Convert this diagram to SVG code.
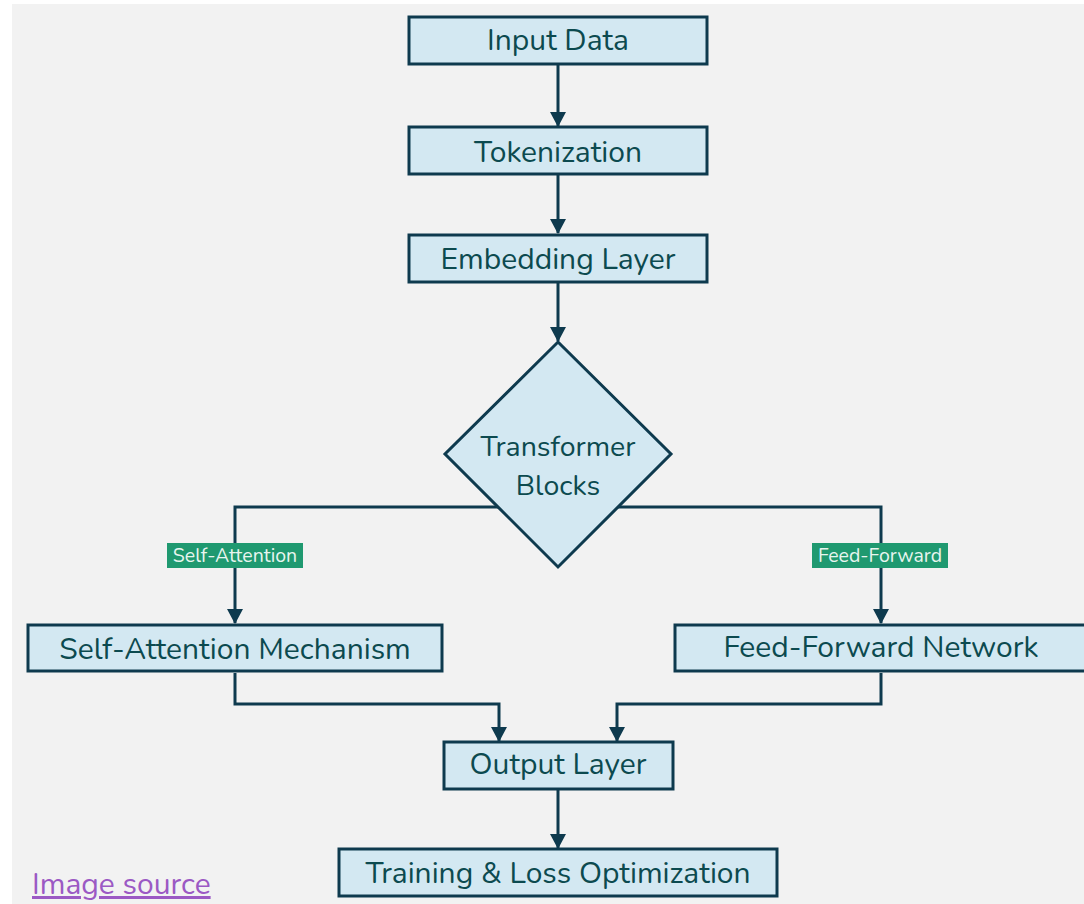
<svg xmlns="http://www.w3.org/2000/svg" width="1084" height="904" viewBox="0 0 1084 904">
<defs>
<style>
.box{fill:#d3e8f2;stroke:#0e3a4e;stroke-width:3}
.t{font-family:"Nunito","Open Sans","Noto Sans",sans-serif;font-size:30px;fill:#0c4a4f;text-anchor:middle}
.d{font-size:28.5px}
.c{fill:none;stroke:#0e3a4e;stroke-width:3}
.lb{fill:#1f9970}
.lt{font-family:"Nunito","Open Sans","Noto Sans",sans-serif;font-size:19.5px;fill:#e8f5ef;text-anchor:middle}
</style>
<marker id="ah" viewBox="0 0 15 16" refX="14" refY="8" markerWidth="15" markerHeight="16" markerUnits="userSpaceOnUse" orient="auto">
<path d="M0,0 L15,8 L0,16 z" fill="#0e3a4e"/>
</marker>
</defs>
<rect x="0" y="0" width="1084" height="904" fill="#ffffff"/>
<rect x="12" y="4" width="1072" height="900" fill="#f2f2f2"/>
<g id="connectors">
<path class="c" d="M558,65 V126" marker-end="url(#ah)"/>
<path class="c" d="M558,175 V233" marker-end="url(#ah)"/>
<path class="c" d="M558,283 V341" marker-end="url(#ah)"/>
<path class="c" d="M500,507 H235 V623" marker-end="url(#ah)"/>
<path class="c" d="M616,507 H881 V623" marker-end="url(#ah)"/>
<path class="c" d="M235,673 V704 H499 V741" marker-end="url(#ah)"/>
<path class="c" d="M881,673 V704 H617 V741" marker-end="url(#ah)"/>
<path class="c" d="M558,790 V848" marker-end="url(#ah)"/>
<g id="label-self-attention"><rect class="lb" x="167" y="543" width="136" height="25"/><text class="lt" x="235" y="562">Self-Attention</text></g>
<g id="label-feed-forward"><rect class="lb" x="812" y="543" width="136" height="25"/><text class="lt" x="880" y="562">Feed-Forward</text></g>
</g>
<g id="input-data"><rect class="box" x="409" y="17" width="298" height="47"/><text class="t" x="558" y="50">Input Data</text></g>
<g id="tokenization"><rect class="box" x="409" y="127" width="298" height="47"/><text class="t" x="558" y="162">Tokenization</text></g>
<g id="embedding-layer"><rect class="box" x="409" y="235" width="298" height="47"/><text class="t" x="558" y="269">Embedding Layer</text></g>
<g id="transformer-blocks"><polygon class="box" points="558,342 671,454 558,567 445,454"/><text class="t d" x="558" y="456">Transformer</text><text class="t d" x="558" y="495">Blocks</text></g>
<g id="self-attention-mechanism"><rect class="box" x="28" y="625" width="414" height="46"/><text class="t" x="235" y="659">Self-Attention Mechanism</text></g>
<g id="feed-forward-network"><rect class="box" x="675" y="625" width="420" height="46"/><text class="t" x="881" y="657">Feed-Forward Network</text></g>
<g id="output-layer"><rect class="box" x="444" y="742" width="229" height="47"/><text class="t" x="558" y="774">Output Layer</text></g>
<g id="training"><rect class="box" x="339" y="849" width="438" height="47"/><text class="t" x="558" y="883">Training &amp; Loss Optimization</text></g>
<text x="32" y="894" font-family="Nunito,'Open Sans','Noto Sans',sans-serif" font-size="30" fill="#9b59c4" text-decoration="underline">Image source</text>
</svg>
